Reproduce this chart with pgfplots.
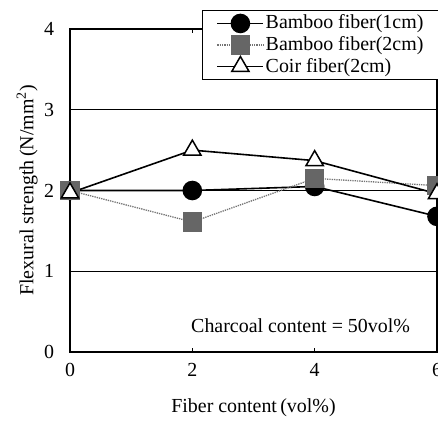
\documentclass[border=0pt]{standalone}
\usepackage{pgfplots}
\pgfplotsset{compat=1.18}
\usepackage{fontspec}
\setmainfont{Liberation Serif}
\begin{document}
\fontsize{20}{22}\selectfont
\begin{tikzpicture}
\begin{axis}[
  name=ax,
  scale only axis,
  width=367bp, height=323bp,
  xmin=0, xmax=6, ymin=0, ymax=4,
  xtick={0,2,4,6}, ytick={0,1,2,3,4},
  /pgf/number format/assume math mode=true,
  tick label style={font=\fontsize{20}{22}\selectfont},
  xticklabel style={anchor=center, yshift=-18bp},
  yticklabel style={anchor=center, xshift=-21bp},
  y tick style={draw=none},
  x tick style={black, line width=0.8bp},
  tick align=inside,
  major tick length=4bp,
  ymajorgrids,
  major grid style={black, line width=0.9bp},
  axis line style={line width=1.5bp},
  xlabel={Fiber content\,(vol\%)},
  ylabel={Flexural strength\,(N/mm\textsuperscript{2})},
  label style={font=\fontsize{20}{22}\selectfont},
  xlabel style={at={(axis description cs:0.5,-0.173)}, anchor=center},
  ylabel style={at={(axis description cs:-0.117,0.5)}, anchor=center},
  clip=false,
  legend cell align=left,
  legend style={at={(axis description cs:0.36,1.059)}, anchor=north west,
    draw=black, line width=1bp, fill=white,
    font=\fontsize{20}{22}\selectfont,
    row sep=1.5bp, inner xsep=14bp, inner ysep=3bp,
    nodes={inner sep=1.5bp}},
  legend image code/.code={\draw[mark repeat=2,mark phase=2] plot coordinates {(0bp,0bp) (23bp,0bp) (46bp,0bp)};},
]
\addplot[black, line width=1.6bp, mark=*, mark size=9bp, mark options={solid, fill=black}]
  coordinates {(0,2.0) (2,2.0) (4,2.05) (6,1.68)};
\addlegendentry{Bamboo fiber(1cm)}
\addplot[black!55, line width=1.3bp, densely dotted, mark=square*, mark size=9bp, mark options={solid, fill=black!60, draw=black!60}]
  coordinates {(0,2.0) (2,1.61) (4,2.15) (6,2.06)};
\addlegendentry{Bamboo fiber(2cm)}
\addplot[black, line width=1.6bp, mark=triangle*, mark size=10bp, mark options={solid, fill=white, line width=1.5bp}]
  coordinates {(0,1.97) (2,2.5) (4,2.37) (6,1.96)};
\addlegendentry{Coir fiber(2cm)}
\node[font=\fontsize{20}{22}\selectfont] at (axis cs:3.77,0.33) {Charcoal content = 50vol\%};
\end{axis}
\pgfresetboundingbox
\path[use as bounding box] ([xshift=-70bp,yshift=-74bp]ax.south west) rectangle ([xshift=1bp,yshift=29bp]ax.north east);
\end{tikzpicture}
\end{document}
